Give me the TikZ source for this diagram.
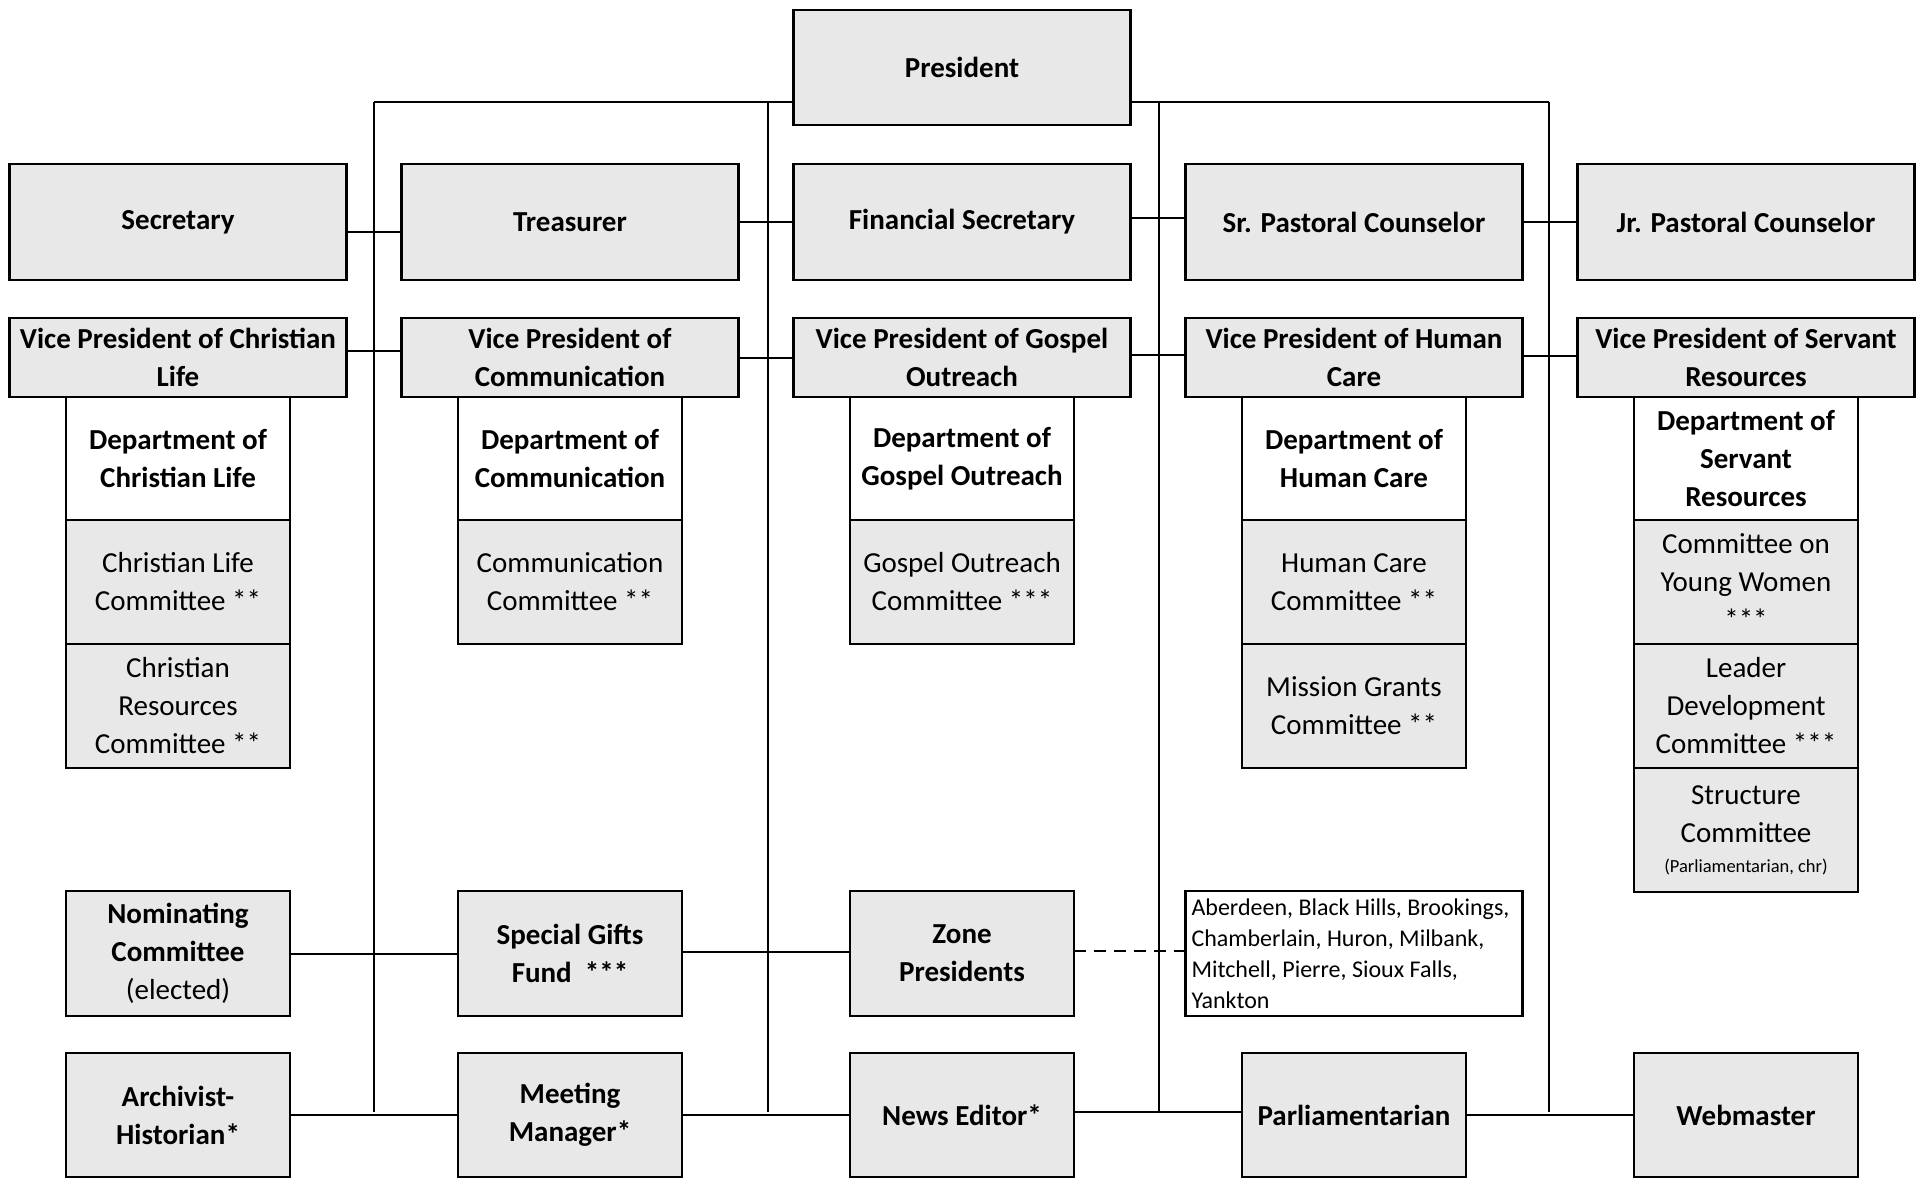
\documentclass[tikz,border=0pt]{standalone}
\usepackage{fontspec}
\setmainfont{Carlito}
\usetikzlibrary{positioning}

\definecolor{boxgray}{HTML}{E8E8E8}

\begin{document}
\begin{tikzpicture}[x=1pt, y=-1pt,
  box/.style={draw, line width=2.8pt, fill=boxgray, outer sep=0pt, inner sep=2pt,
    align=center, font=\fontsize{29}{38}\selectfont\bfseries},
  wide/.style={box, minimum width=337pt},
  narrow/.style={box, minimum width=224pt},
  dept/.style={narrow, fill=white, minimum height=123pt},
  cmte/.style={narrow, font=\fontsize{29}{38}\selectfont, minimum height=124pt},
  link/.style={line width=2pt}]
  \useasboundingbox (0,0) rectangle (1921,1179);

  \node[wide, minimum height=115pt] (pres) at (962,67.5) {President};

  \node[wide, minimum height=116pt] (sec) at (178,222) {Secretary};
  \node[wide, minimum height=116pt] (tre) at (570,222) {Treasurer};
  \node[wide, minimum height=116pt] (fin) at (962,222) {Financial Secretary};
  \node[wide, minimum height=116pt] (srpc) at (1354,222) {Sr. Pastoral Counselor};
  \node[wide, minimum height=116pt] (jrpc) at (1746,222) {Jr. Pastoral Counselor};

  \node[wide, minimum height=79pt] (vpcl) at (178,357.5) {Vice President of Christian\\Life};
  \node[wide, minimum height=79pt] (vpcom) at (570,357.5) {Vice President of\\Communication};
  \node[wide, minimum height=79pt] (vpgo) at (962,357.5) {Vice President of Gospel\\Outreach};
  \node[wide, minimum height=79pt] (vphc) at (1354,357.5) {Vice President of Human\\Care};
  \node[wide, minimum height=79pt] (vpsr) at (1746,357.5) {Vice President of Servant\\Resources};

  \node[dept] (dcl) at (178,458.5) {Department of\\Christian Life};
  \node[cmte, below=0pt of dcl] (clc) {Christian Life\\Committee **};
  \node[cmte, below=0pt of clc] (crc) {Christian\\Resources\\Committee **};

  \node[dept] (dcom) at (570,458.5) {Department of\\Communication};
  \node[cmte, below=0pt of dcom] (comc) {Communication\\Committee **};

  \node[dept] (dgo) at (962,458.5) {Department of\\Gospel Outreach};
  \node[cmte, below=0pt of dgo] (goc) {Gospel Outreach\\Committee ***};

  \node[dept] (dhc) at (1354,458.5) {Department of\\Human Care};
  \node[cmte, below=0pt of dhc] (hcc) {Human Care\\Committee **};
  \node[cmte, below=0pt of hcc] (mgc) {Mission Grants\\Committee **};

  \node[dept] (dsr) at (1746,458.5) {Department of\\Servant\\Resources};
  \node[cmte, below=0pt of dsr] (cyw) {Committee on\\Young Women\\***};
  \node[cmte, below=0pt of cyw] (ldc) {Leader\\Development\\Committee ***};
  \node[cmte, below=0pt of ldc] (stc) {Structure\\Committee\\[-8pt]{\fontsize{18.5}{22}\selectfont(Parliamentarian, chr)}};

  \node[narrow, minimum height=125pt] (nom) at (178,953.5) {Nominating\\Committee\\{\mdseries(elected)}};
  \node[narrow, minimum height=125pt] (sgf) at (570,953.5) {Special Gifts\\Fund\ \ ***};
  \node[narrow, minimum height=125pt] (zone) at (962,953.5) {Zone\\Presidents};
  \node[wide, fill=white, minimum height=125pt, text width=325pt, inner xsep=6pt, align=flush left,
    font=\fontsize{24}{31}\selectfont] (towns) at (1354,953.5)
    {Aberdeen, Black Hills, Brookings,\\Chamberlain, Huron, Milbank,\\Mitchell, Pierre, Sioux Falls,\\Yankton};

  \node[narrow, minimum height=124pt] (arch) at (178,1115) {Archivist-\\Historian*};
  \node[narrow, minimum height=124pt] (meet) at (570,1115) {Meeting\\Manager*};
  \node[narrow, minimum height=124pt] (news) at (962,1115) {News Editor*};
  \node[narrow, minimum height=124pt] (parl) at (1354,1115) {Parliamentarian};
  \node[narrow, minimum height=124pt] (web) at (1746,1115) {Webmaster};

  \foreach \x/\n in {374/1, 768/2, 1159/3, 1549/4} {
    \coordinate (top\n) at (\x,102);
    \coordinate (bot\n) at (\x,1112);
    \draw[link] (top\n) -- (bot\n);
  }
  \draw[link] (top1) -- (top1 -| pres.west);
  \draw[link] (top4) -- (top4 -| pres.east);

  \draw[link] ([yshift=-10pt]sec.east) -- ([yshift=-10pt]tre.west);
  \draw[link] (tre) -- (fin);
  \draw[link] ([yshift=4pt]fin.east) -- ([yshift=4pt]srpc.west);
  \draw[link] (srpc) -- (jrpc);

  \draw[link] ([yshift=7pt]vpcl.east) -- ([yshift=7pt]vpcom.west);
  \draw[link] (vpcom) -- (vpgo);
  \draw[link] ([yshift=3pt]vpgo.east) -- ([yshift=3pt]vphc.west);
  \draw[link] ([yshift=2pt]vphc.east) -- ([yshift=2pt]vpsr.west);

  \draw[link] (nom) -- (sgf);
  \draw[link] ([yshift=2pt]sgf.east) -- ([yshift=2pt]zone.west);
  \draw[link, dash pattern=on 12pt off 8pt] ([yshift=3pt]zone.east) -- ([yshift=3pt]towns.west);

  \draw[link] (arch) -- (meet);
  \draw[link] (meet) -- (news);
  \draw[link] ([yshift=3pt]news.east) -- ([yshift=3pt]parl.west);
  \draw[link] (parl) -- (web);
\end{tikzpicture}
\end{document}
